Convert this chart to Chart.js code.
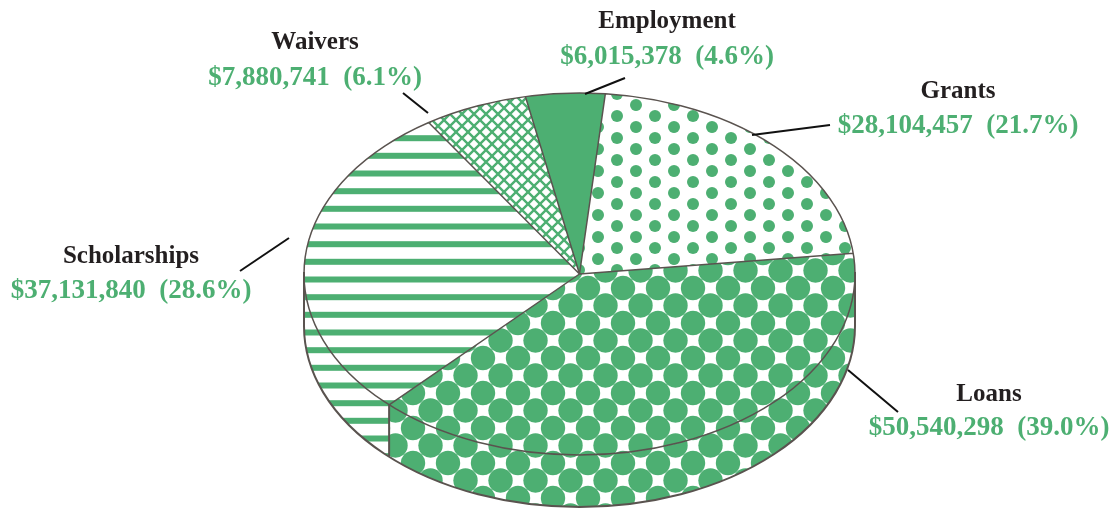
<!DOCTYPE html>
<html>
<head>
<meta charset="utf-8">
<script src="https://cdn.jsdelivr.net/npm/chart.js@4.4.1/dist/chart.umd.min.js"></script>
<style>
    html, body { margin: 0; padding: 0; background: #fff; }
    canvas { display: block; }
</style>
</head>
<body>
<canvas id="aidChart" width="1119" height="509"></canvas>
<script>
// Slices in drawing order (clockwise, starting with Loans)
const categories = ['Loans', 'Scholarships', 'Waivers', 'Employment', 'Grants'];
const amounts = [50540298, 37131840, 7880741, 6015378, 28104457];
const percents = [39.0, 28.6, 6.1, 4.6, 21.7];

const GREEN = '#4daf72';
const OUTLINE = '#5a534f';
const TEXT = '#231f20';
const DEPTH = 52;     // thickness of the pie in px
const TILT = 0.657;   // height / width of the top face

// label placement: centre x, name y, value y, leader line
const labelPos = [
    { x: 989, nameY: 395, valueY: 428, line: [848, 370, 898, 412] },
    { x: 131, nameY: 257, valueY: 291, line: [240, 271, 289, 238] },
    { x: 315, nameY: 43, valueY: 78, line: [403, 93, 428, 113] },
    { x: 667, nameY: 22, valueY: 57, line: [585, 94, 625, 78] },
    { x: 958, nameY: 92, valueY: 126, line: [752, 135, 830, 125] }
];

// Pattern tiles
function makeTile(w, h, draw) {
    const c = document.createElement('canvas');
    c.width = w;
    c.height = h;
    const g = c.getContext('2d');
    g.fillStyle = '#fff';
    g.fillRect(0, 0, w, h);
    g.fillStyle = GREEN;
    g.strokeStyle = GREEN;
    draw(g, w, h);
    return c;
}

function dots(g, pts, rad, w, h) {
    pts.forEach(([px, py]) => {
        for (let dx = -w; dx <= w; dx += w) {
            for (let dy = -h; dy <= h; dy += h) {
                g.beginPath();
                g.arc(px + dx, py + dy, rad, 0, Math.PI * 2);
                g.fill();
            }
        }
    });
}

const tiles = [
    makeTile(35, 35, (g, w, h) => dots(g, [[28, 8], [10.5, 25.5]], 12.2, w, h)),
    makeTile(4, 53, (g) => { [11.5, 29.2, 46.8].forEach(y => g.fillRect(0, y, 4, 6)); }),
    makeTile(12, 12, (g) => {
        g.lineWidth = 2.4;
        for (let n = -1; n <= 1; n++) {
            g.beginPath();
            g.moveTo(-2, -2 + 12 * n); g.lineTo(14, 14 + 12 * n);
            g.moveTo(-2, 14 + 12 * n); g.lineTo(14, -2 + 12 * n);
            g.stroke();
        }
    }),
    null,
    makeTile(38, 22, (g, w, h) => dots(g, [[9, 6], [28, 17]], 6, w, h))
];

const ctx = document.getElementById('aidChart').getContext('2d');
const topFills = tiles.map(t => t ? ctx.createPattern(t, 'repeat') : GREEN);
const wallFills = tiles.map(t => t ? ctx.createPattern(t, 'repeat') : GREEN);

// Squashes the pie into a tilted disc and adds the side wall
const tiltPlugin = {
    id: 'tilt',
    beforeDatasetsDraw(chart) {
        const c = chart.ctx;
        const arcs = chart.getDatasetMeta(0).data;
        const cx = arcs[0].x, cy = arcs[0].y, r = arcs[0].outerRadius, ry = r * TILT;

        // front half of the wall is the only visible part
        arcs.forEach((arc, i) => {
            for (let k = -1; k <= 1; k++) {
                const s = Math.max(arc.startAngle, k * 2 * Math.PI);
                const e = Math.min(arc.endAngle, k * 2 * Math.PI + Math.PI);
                if (e <= s) continue;
                c.beginPath();
                c.ellipse(cx, cy, r, ry, 0, s, e);
                c.ellipse(cx, cy + DEPTH, r, ry, 0, e, s, true);
                c.closePath();
                c.fillStyle = wallFills[i];
                c.fill();
            }
        });

        // keep the patterns upright on the squashed top face
        const m = new DOMMatrix().translate(cx, cy).scale(1, 1 / TILT).translate(-cx, -cy);
        topFills.forEach(f => { if (f instanceof CanvasPattern) f.setTransform(m); });

        c.save();
        c.translate(cx, cy);
        c.scale(1, TILT);
        c.translate(-cx, -cy);
    },
    afterDatasetsDraw(chart) {
        const c = chart.ctx;
        c.restore();

        const arcs = chart.getDatasetMeta(0).data;
        const cx = arcs[0].x, cy = arcs[0].y, r = arcs[0].outerRadius, ry = r * TILT;

        c.save();
        c.strokeStyle = OUTLINE;
        c.lineJoin = 'round';

        // wall edges
        c.lineWidth = 2;
        c.beginPath();
        c.ellipse(cx, cy + DEPTH, r, ry, 0, 0, Math.PI);
        c.moveTo(cx + r, cy - 2);
        c.lineTo(cx + r, cy + DEPTH);
        c.moveTo(cx - r, cy - 2);
        c.lineTo(cx - r, cy + DEPTH);
        arcs.forEach(arc => {
            let a = arc.startAngle % (2 * Math.PI);
            if (a < 0) a += 2 * Math.PI;
            if (a > 0 && a < Math.PI) {
                const x = cx + r * Math.cos(a), y = cy + ry * Math.sin(a);
                c.moveTo(x, y);
                c.lineTo(x, y + DEPTH);
            }
        });
        c.stroke();

        // top face
        c.lineWidth = 1.5;
        c.beginPath();
        c.ellipse(cx, cy, r, ry, 0, 0, Math.PI * 2);
        arcs.forEach(arc => {
            c.moveTo(cx, cy);
            c.lineTo(cx + r * Math.cos(arc.startAngle), cy + ry * Math.sin(arc.startAngle));
        });
        c.stroke();
        c.restore();
    }
};

// Category names, amounts and leader lines
const labelPlugin = {
    id: 'sliceLabels',
    afterDraw(chart) {
        const c = chart.ctx;
        c.save();
        c.textAlign = 'center';
        c.textBaseline = 'middle';

        labelPos.forEach((p, i) => {
            const [x1, y1, x2, y2] = p.line;
            c.strokeStyle = '#111';
            c.lineWidth = 2;
            c.beginPath();
            c.moveTo(x1, y1);
            c.lineTo(x2, y2);
            c.stroke();

            c.fillStyle = TEXT;
            c.font = 'bold 25px "Liberation Serif", serif';
            c.fillText(categories[i], p.x, p.nameY);

            c.fillStyle = GREEN;
            c.font = 'bold 27px "Liberation Serif", serif';
            const value = '$' + amounts[i].toLocaleString('en-US') + '  (' + percents[i].toFixed(1) + '%)';
            c.fillText(value, p.x, p.valueY);
        });
        c.restore();
    }
};

new Chart(ctx, {
    type: 'pie',
    data: {
        labels: categories,
        datasets: [{
            data: amounts,
            backgroundColor: topFills,
            borderWidth: 0,
            radius: 275.5
        }]
    },
    options: {
        responsive: false,
        animation: false,
        rotation: 83.4,
        layout: {
            padding: { left: 140, right: 100, top: 139, bottom: 100 }
        },
        plugins: {
            legend: { display: false },
            tooltip: { enabled: false }
        }
    },
    plugins: [tiltPlugin, labelPlugin]
});
</script>
</body>
</html>
